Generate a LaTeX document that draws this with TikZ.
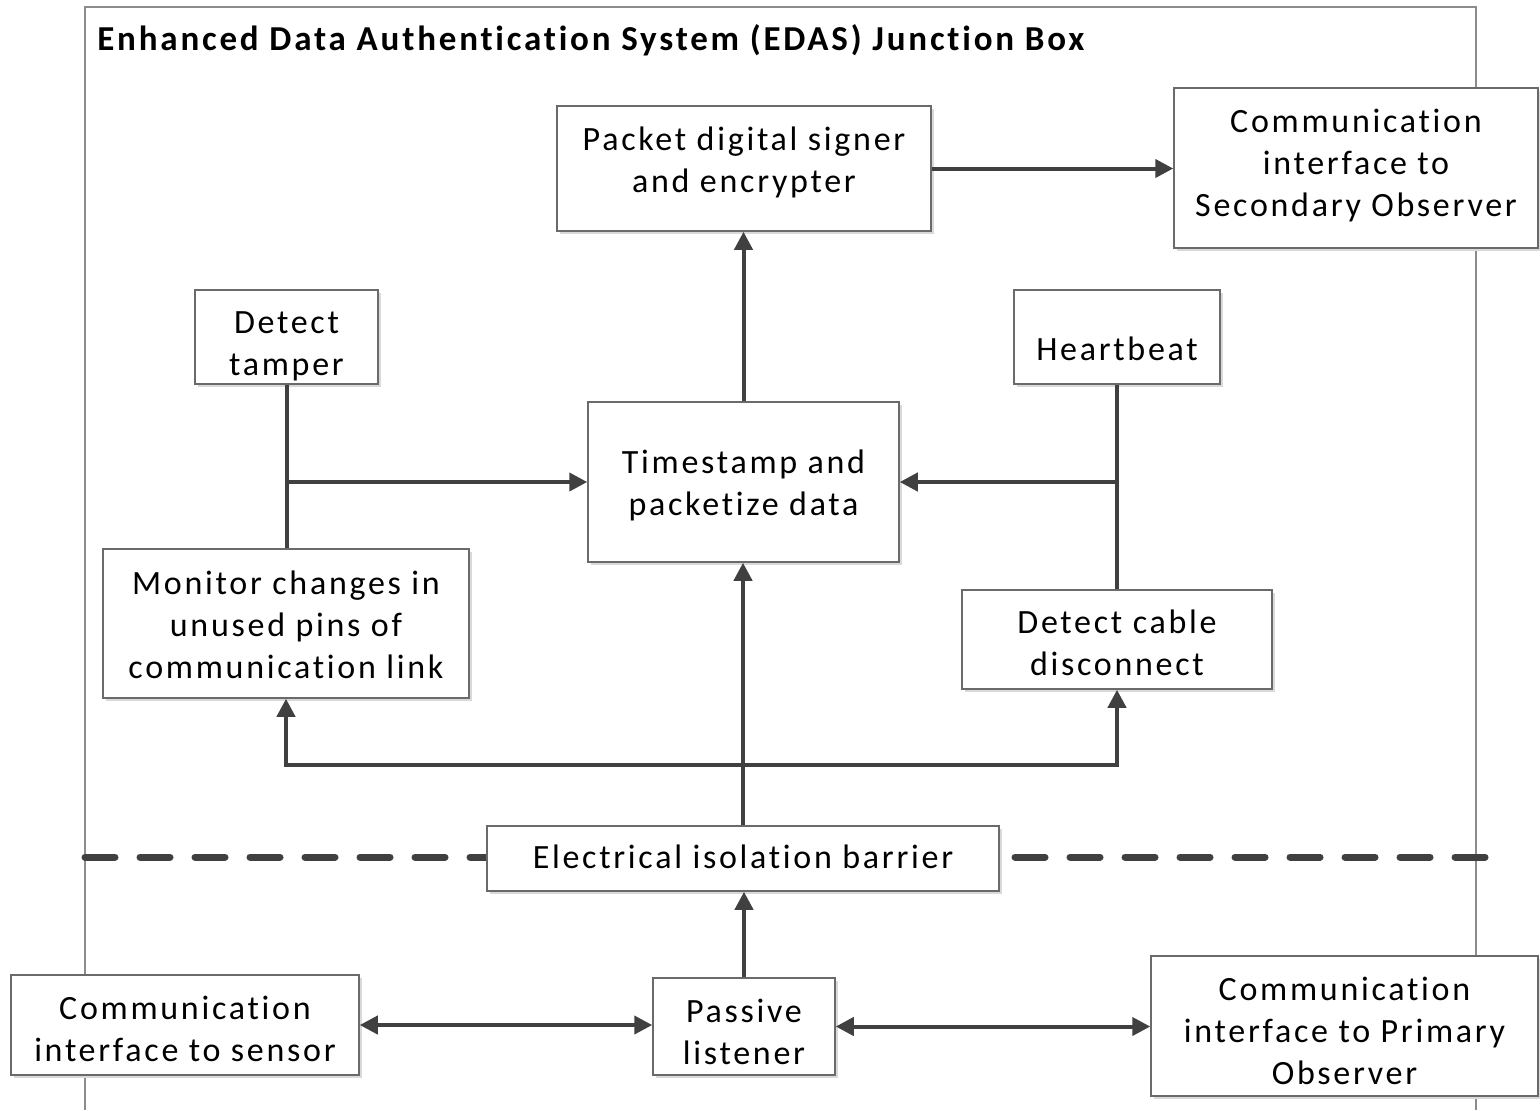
\documentclass[tikz,border=0pt]{standalone}
\usepackage{fontspec}
\setmainfont{Carlito}[LetterSpace=8,Ligatures=NoCommon]
\usetikzlibrary{arrows.meta,shadows}
\definecolor{conn}{HTML}{404040}
\definecolor{boxline}{HTML}{6A6A6A}
\newcommand{\fs}{\rule{0pt}{13pt}}
\tikzset{
  blk/.style={draw=boxline, line width=0.75pt, fill=white, inner sep=0pt,
    general shadow={fill=black!15, shadow xshift=1.5pt, shadow yshift=-1.5pt}},
  txt/.style={anchor=north, align=center, inner sep=0pt, font=\fontsize{17pt}{21pt}\selectfont},
  wire/.style={draw=conn, line width=2pt},
  arr/.style={wire, -{Triangle[length=9pt,width=9pt]}},
  darr/.style={wire, {Triangle[length=9pt,width=9pt]}-{Triangle[length=9pt,width=9pt]}},
  barrier/.style={draw=conn, line width=3.5pt, line cap=round, dash pattern=on 15pt off 12.5pt},
}
\begin{document}
\begin{tikzpicture}[x=0.5pt,y=-0.5pt]
\useasboundingbox[fill=white] (0,0) rectangle (1540,1110);
% frame
\coordinate (fbl) at (85,1110);
\coordinate (ftl) at (85,7);
\coordinate (ftr) at (1476,7);
\coordinate (fbr) at (1476,1110);
\draw[black!45, line width=0.75pt] (fbl) -- (ftl) -- (ftr) -- (fbr);
\node[anchor=base west, inner sep=0pt, font=\fontsize{17.5pt}{21pt}\selectfont\bfseries] (title) at (97,50) {Enhanced Data Authentication System (EDAS) Junction Box};
% dashed barrier
\coordinate (dl) at (85,857);
\coordinate (dr) at (1485,857);
% boxes
\node[blk, minimum width=187pt, minimum height=62.5pt] (packet) at (744,168.5) {};
\node[txt] (packet-t) at (744,124) {\fs Packet digital signer\\and encrypter};
\node[blk, minimum width=182pt, minimum height=80pt] (sec) at (1356,168) {};
\node[txt] (sec-t) at (1356,106) {\fs Communication\\interface to\\Secondary Observer};
\node[blk, minimum width=91.5pt, minimum height=47pt] (tamper) at (286.5,337) {};
\node[txt] (tamper-t) at (286.5,307) {\fs Detect\\tamper};
\node[blk, minimum width=103pt, minimum height=47pt] (heart) at (1117,337) {};
\node[txt] (heart-t) at (1117,334) {\fs Heartbeat};
\node[blk, minimum width=155.5pt, minimum height=80pt] (time) at (743.5,482) {};
\node[txt] (time-t) at (743.5,447) {\fs Timestamp and\\packetize data};
\node[blk, minimum width=183pt, minimum height=74.5pt] (monitor) at (286,623.5) {};
\node[txt] (monitor-t) at (286,568) {\fs Monitor changes in\\unused pins of\\communication link};
\node[blk, minimum width=155pt, minimum height=49.5pt] (cable) at (1117,639.5) {};
\node[txt] (cable-t) at (1117,607) {\fs Detect cable\\disconnect};
\draw[barrier] (dl) -- (487,857);
\draw[barrier] (1015,857) -- (dr);
\node[blk, minimum width=256pt, minimum height=32.5pt] (iso) at (743,858.5) {};
\node[txt] (iso-t) at (743,842) {\fs Electrical isolation barrier};
\node[blk, minimum width=174pt, minimum height=50pt] (sensor) at (185,1025) {};
\node[txt] (sensor-t) at (185,993) {\fs Communication\\interface to sensor};
\node[blk, minimum width=91pt, minimum height=48.5pt] (passive) at (744,1026.5) {};
\node[txt] (passive-t) at (744,996) {\fs Passive\\listener};
\node[blk, minimum width=193.5pt, minimum height=70pt] (primary) at (1344.5,1026) {};
\node[txt] (primary-t) at (1344.5,974) {\fs Communication\\interface to Primary\\Observer};
% connectors
\draw[arr] (packet.east) -- (packet.east -| sec.west);
\draw[arr] (time.north) -- (time.north |- packet.south);
\draw[wire] (tamper.south) -- (tamper.south |- monitor.north);
\draw[arr] (tamper.south |- time.west) -- (time.west);
\draw[wire] (heart.south) -- (heart.south |- cable.north);
\draw[arr] (heart.south |- time.east) -- (time.east);
\draw[arr] (iso.north) -- (iso.north |- time.south);
\coordinate (bus) at (743,765);
\draw[arr] (bus) -| (monitor.south);
\draw[arr] (bus) -| (cable.south);
\draw[arr] (passive.north) -- (passive.north |- iso.south);
\draw[darr] (sensor.east) -- (sensor.east -| passive.west);
\draw[darr] (passive.east) -- (passive.east -| primary.west);
\end{tikzpicture}
\end{document}
